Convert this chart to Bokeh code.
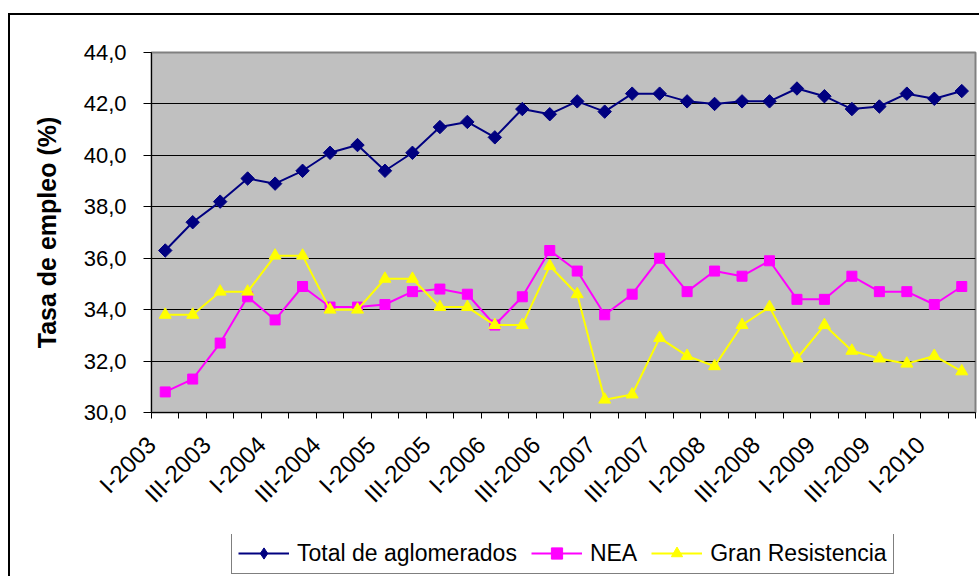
import numpy as np
from bokeh.plotting import figure
from bokeh.layouts import column
from bokeh.models import (FixedTicker, CustomJSTickFormatter, Legend, LegendItem,
                          ColumnDataSource)
from bokeh.embed import file_html
from bokeh.resources import INLINE

# ---------------- data ----------------
quarters = ["I-2003", "II-2003", "III-2003", "IV-2003",
            "I-2004", "II-2004", "III-2004", "IV-2004",
            "I-2005", "II-2005", "III-2005", "IV-2005",
            "I-2006", "II-2006", "III-2006", "IV-2006",
            "I-2007", "II-2007", "III-2007", "IV-2007",
            "I-2008", "II-2008", "III-2008", "IV-2008",
            "I-2009", "II-2009", "III-2009", "IV-2009",
            "I-2010", "II-2010"]

tick_labels = ["I-2003", "III-2003", "I-2004", "III-2004", "I-2005", "III-2005",
               "I-2006", "III-2006", "I-2007", "III-2007", "I-2008", "III-2008",
               "I-2009", "III-2009", "I-2010"]

total = [36.3, 37.4, 38.2, 39.1, 38.9, 39.4, 40.1, 40.4, 39.4, 40.1,
         41.1, 41.3, 40.7, 41.8, 41.6, 42.1, 41.7, 42.4, 42.4, 42.1,
         42.0, 42.1, 42.1, 42.6, 42.3, 41.8, 41.9, 42.4, 42.2, 42.5]

nea = [30.8, 31.3, 32.7, 34.5, 33.6, 34.9, 34.1, 34.1, 34.2, 34.7,
       34.8, 34.6, 33.4, 34.5, 36.3, 35.5, 33.8, 34.6, 36.0, 34.7,
       35.5, 35.3, 35.9, 34.4, 34.4, 35.3, 34.7, 34.7, 34.2, 34.9]

gran = [33.8, 33.8, 34.7, 34.7, 36.1, 36.1, 34.0, 34.0, 35.2, 35.2,
        34.1, 34.1, 33.4, 33.4, 35.7, 34.6, 30.5, 30.7, 32.9, 32.2,
        31.8, 33.4, 34.1, 32.1, 33.4, 32.4, 32.1, 31.9, 32.2, 31.6]

series_names = ["Total de aglomerados", "NEA", "Gran Resistencia"]
y_ticks = [30, 32, 34, 36, 38, 40, 42, 44]

# ---------------- styles ----------------
FONT = "Liberation Sans"
NAVY, MAGENTA, YELLOW = "#000080", "#FF00FF", "#FFFF00"
W = 969

# ---------------- main figure ----------------
xpos = np.arange(len(quarters)) + 0.5
src = ColumnDataSource(dict(x=xpos, q=quarters, total=total, nea=nea, gran=gran))

p = figure(width=W, height=519, x_range=(0, len(quarters)), y_range=(30, 44),
           output_backend="svg", toolbar_location=None,
           min_border_left=141, min_border_right=4, min_border_top=37,
           min_border_bottom=122)

p.background_fill_color = "#C0C0C0"
p.border_fill_color = "white"
p.outline_line_color = "#808080"
p.outline_line_width = 2

p.xgrid.visible = False
p.ygrid.ticker = FixedTicker(ticks=y_ticks[1:-1])
p.ygrid.grid_line_color = "black"
p.ygrid.grid_line_width = 1

p.yaxis.ticker = FixedTicker(ticks=y_ticks)
p.yaxis.formatter = CustomJSTickFormatter(code="return tick.toFixed(1).replace('.', ',');")
p.yaxis.major_label_text_font = FONT
p.yaxis.major_label_text_font_size = "22px"
p.yaxis.major_label_text_color = "black"
p.yaxis.major_tick_out = 8
p.yaxis.major_tick_in = 0
p.yaxis.minor_tick_line_color = None
p.yaxis.major_tick_line_color = "black"
p.yaxis.axis_line_color = "black"
p.yaxis.major_label_standoff = 17
p.yaxis.axis_label = "Tasa de empleo (%)"
p.yaxis.axis_label_text_font = FONT
p.yaxis.axis_label_text_font_style = "bold"
p.yaxis.axis_label_text_font_size = "25px"
p.yaxis.axis_label_text_color = "black"
p.yaxis.axis_label_standoff = 20

# x axis: ticks at category boundaries, labels on every other category
p.xaxis.ticker = FixedTicker(ticks=list(np.arange(0, len(quarters), 2)),
                             minor_ticks=list(range(len(quarters) + 1)))
p.xaxis.formatter = CustomJSTickFormatter(args=dict(labels=tick_labels),
                                          code="return labels[Math.round(tick / 2)];")
p.xaxis.major_tick_line_color = None
p.xaxis.major_tick_out = 0
p.xaxis.major_tick_in = 0
p.xaxis.minor_tick_out = 6
p.xaxis.minor_tick_in = 0
p.xaxis.minor_tick_line_color = "black"
p.xaxis.axis_line_color = "black"
p.xaxis.major_label_orientation = np.pi / 4
p.xaxis.major_label_standoff = 22
p.xaxis.major_label_text_font = FONT
p.xaxis.major_label_text_font_size = "24px"
p.xaxis.major_label_text_color = "black"

p.line("x", "total", source=src, line_color=NAVY, line_width=2)
p.scatter("x", "total", source=src, marker="square", angle=np.pi / 4, size=9.5,
          fill_color=NAVY, line_color=NAVY)
p.line("x", "nea", source=src, line_color=MAGENTA, line_width=2)
p.scatter("x", "nea", source=src, marker="square", size=10,
          fill_color=MAGENTA, line_color=MAGENTA)
p.line("x", "gran", source=src, line_color=YELLOW, line_width=2)
p.scatter("x", "gran", source=src, marker="triangle", size=12,
          fill_color=YELLOW, line_color=YELLOW)

# ---------------- legend strip ----------------
# (series are drawn again here outside the visible range only to feed the legend)
q = figure(width=W, height=42, x_range=(0, 1), y_range=(0, 1),
           output_backend="svg", toolbar_location=None,
           x_axis_type=None, y_axis_type=None,
           min_border_left=0, min_border_right=0, min_border_top=0,
           min_border_bottom=0)
q.grid.visible = False
q.outline_line_color = None
q.background_fill_color = "white"
q.border_fill_color = "white"

markers = ["diamond", "square", "triangle"]
msizes = [13, 10, 12]
colors = [NAVY, MAGENTA, YELLOW]
cols = ["total", "nea", "gran"]
items = []
for name, col, mk, ms, c in zip(series_names, cols, markers, msizes, colors):
    lr = q.line("x", col, source=src, line_color=c, line_width=2)
    sr = q.scatter("x", col, source=src, marker=mk, size=ms, fill_color=c, line_color=c)
    items.append(LegendItem(label=name, renderers=[lr, sr]))

legend = Legend(items=items, location=(80, 2), orientation="horizontal")
legend.label_text_font = FONT
legend.label_text_font_size = "23px"
legend.label_text_color = "black"
legend.glyph_width = 51
legend.glyph_height = 28
legend.label_height = 26
legend.label_standoff = 8
legend.spacing = 14
legend.padding = 6
legend.margin = 0
legend.border_line_color = "black"
legend.border_line_width = 1
legend.background_fill_color = "white"
legend.background_fill_alpha = 1
q.add_layout(legend)

layout = column(p, q, spacing=0,
                styles={"margin-left": "8px", "margin-top": "13px",
                        "border-left": "2px solid black",
                        "border-top": "2px solid black"})

open("out.html", "w").write(file_html(layout, INLINE))
